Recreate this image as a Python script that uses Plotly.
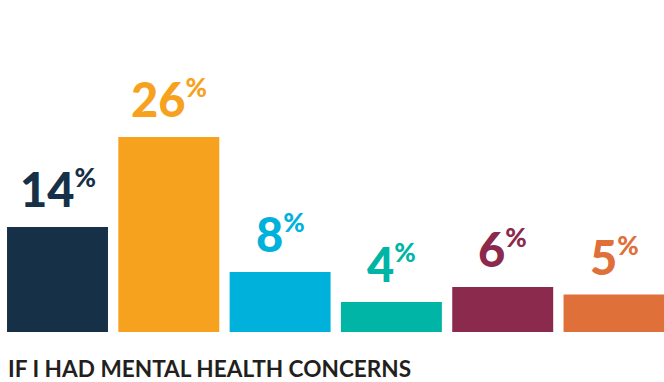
import plotly.graph_objects as go

categories = ["A", "B", "C", "D", "E", "F"]
values = [14, 26, 8, 4, 6, 5]
colors = ["#163047", "#F7A21F", "#00B2DB", "#00B5A6", "#8B2A4C", "#E0703A"]
title_text = "IF I HAD MENTAL HEALTH CONCERNS"

xs = list(range(len(categories)))

fig = go.Figure()
fig.add_trace(go.Bar(
    x=xs, y=values, marker=dict(color=colors, line=dict(width=0)),
    width=0.907, hoverinfo="skip",
))

for x, v, c in zip(xs, values, colors):
    fig.add_annotation(
        x=x, y=v, xref="x", yref="y", yanchor="bottom", xanchor="center",
        text=f"{v}<sup><span style='font-size:26px'>%</span></sup>",
        showarrow=False, yshift=8,
        font=dict(family="Lato", size=47, color=c, weight=900),
    )

fig.add_annotation(
    xref="paper", yref="paper", x=7 / 664, y=(382 - 368 - 50) / 332,
    text="<b>" + title_text + "</b>", borderpad=0,
    showarrow=False, xanchor="left", yanchor="middle",
    font=dict(family="Lato", size=22.6, color="#231f20"),
)

fig.update_layout(
    width=664, height=382,
    margin=dict(l=0, r=0, t=0, b=50),
    paper_bgcolor="white", plot_bgcolor="white",
    showlegend=False,
    xaxis=dict(range=[-0.5166, 5.449], visible=False, fixedrange=True),
    yaxis=dict(range=[0, 332 / 7.5], visible=False, fixedrange=True),
)
fig.write_html("out.html")
